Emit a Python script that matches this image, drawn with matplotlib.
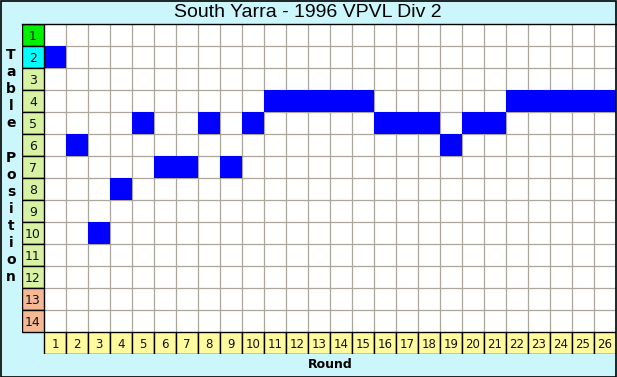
import matplotlib
matplotlib.use("Agg")
import matplotlib.pyplot as plt

title = "South Yarra - 1996 VPVL Div 2"
rounds = list(range(1, 27))
positions = [2, 6, 10, 8, 5, 7, 7, 5, 7, 5, 4, 4, 4, 4, 4, 5, 5, 5, 6, 5, 5, 4, 4, 4, 4, 4]
table_rows = list(range(1, 15))
row_colors = ["#00f000", "#00ffff"] + ["#d8f2a4"] * 10 + ["#f6b894"] * 2
ylabel_text = "Table Position"
xlabel_text = "Round"

W, H = 617, 377
bg = "#caf6fc"
fig = plt.figure(figsize=(W / 100, H / 100), dpi=100, facecolor=bg)

n_rounds = len(rounds)
n_rows = len(table_rows)
x0, x1 = 22, 616
y0, y1 = 24, 354
ax = fig.add_axes([x0 / W, 1 - y1 / H, (x1 - x0) / W, (y1 - y0) / H])
ax.set_xlim(-0.5, n_rounds + 0.5)
ax.set_ylim(n_rows + 1.5, 0.5)
ax.axis("off")

ax.add_patch(plt.Rectangle((0.5, 0.5), n_rounds, n_rows, facecolor="white", edgecolor="none", zorder=0))
ax.vlines([r + 0.5 for r in rounds[:-1]], 0.5, n_rows + 0.5, colors="#aca69c", linewidth=0.9, zorder=1)
ax.hlines([t + 0.5 for t in table_rows[:-1]], 0.5, n_rounds + 0.5, colors="#aca69c", linewidth=0.9, zorder=1)

ax.bar(rounds, [1] * n_rounds, bottom=[p - 0.5 for p in positions], width=1.0,
       color="#0000ff", edgecolor="none", zorder=2)

ax.bar([0] * n_rows, [1] * n_rows, bottom=[t - 0.5 for t in table_rows], width=1.0,
       color=row_colors, edgecolor="black", linewidth=1.0, zorder=3)
for t in table_rows:
    ax.text(0, t + 0.05, str(t), ha="center", va="center", fontsize=9,
            family="DejaVu Sans", color="#111111", zorder=4)

ax.bar(rounds, [1] * n_rounds, bottom=[n_rows + 0.5] * n_rounds, width=1.0,
       color="#fffa9e", edgecolor="black", linewidth=1.0, zorder=3)
for r in rounds:
    ax.text(r, n_rows + 1.05, str(r), ha="center", va="center", fontsize=8.5,
            family="DejaVu Sans", color="#111111", zorder=4)

fig.add_artist(plt.Line2D([x0 / W, 1], [1 - 24 / H, 1 - 24 / H], color="black", linewidth=1.0))
fig.text(308 / W, 1 - 12.5 / H, title, ha="center", va="center", fontsize=14,
         family="Liberation Sans", color="black")

ys_start, ys_step = 55, 17.1
for i, ch in enumerate(ylabel_text):
    if ch == " ":
        continue
    fig.text(11 / W, 1 - (ys_start + i * ys_step) / H, ch, ha="center", va="center",
             fontsize=10, fontweight="bold", family="DejaVu Sans", color="black")

fig.text(330 / W, 1 - 365 / H, xlabel_text, ha="center", va="center", fontsize=9,
         fontweight="bold", family="DejaVu Sans", color="black")

fig.add_artist(plt.Rectangle((0.5 / W, 0.5 / H), (W - 1.5) / W, (H - 1.5) / H, transform=fig.transFigure,
                             fill=False, edgecolor="black", linewidth=1.2))

fig.savefig("out.png", dpi=100, facecolor=bg)
